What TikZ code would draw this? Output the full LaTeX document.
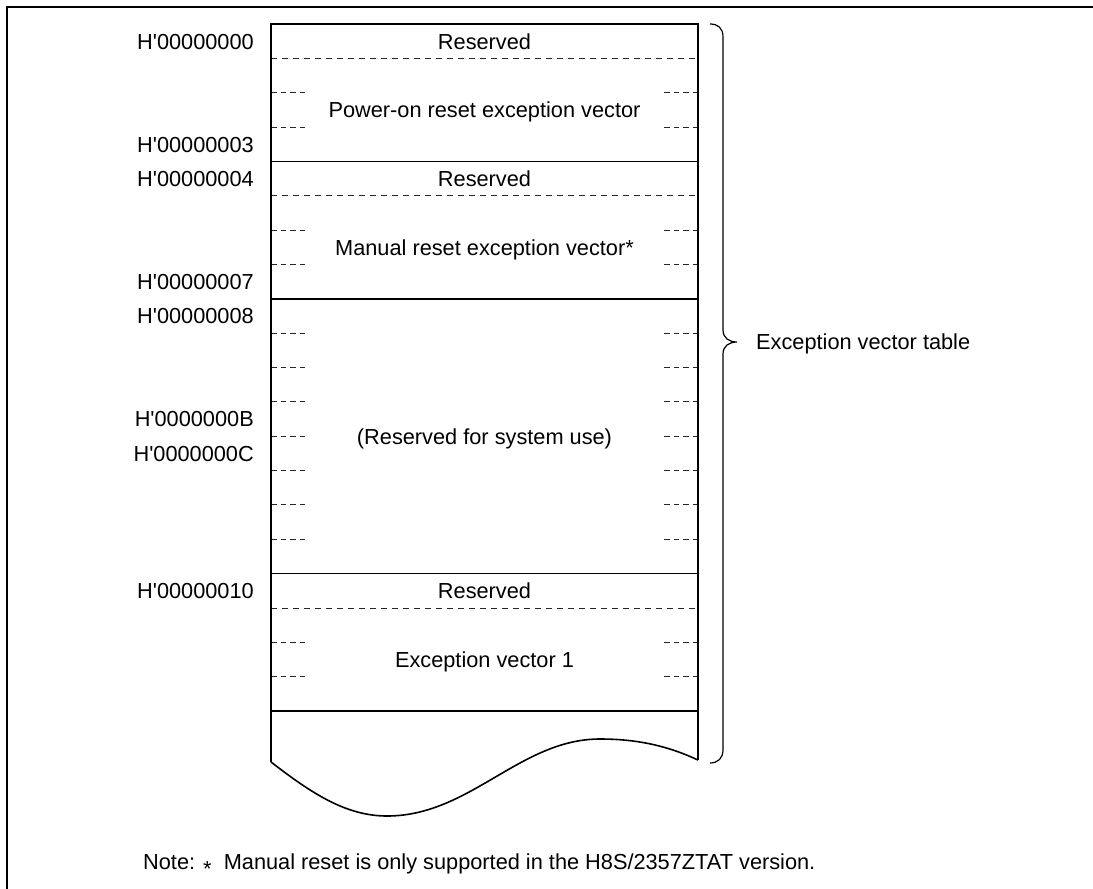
\documentclass[tikz,border=0pt]{standalone}
\usepackage{fontspec}
\setmainfont{Liberation Sans}[Ligatures=TeXOff]
\begin{document}
\begin{tikzpicture}[x=1pt,y=-1pt,
  solidline/.style={line width=1.6pt},
  frameline/.style={line width=1.3pt},
  sepline/.style={line width=0.9pt, black!85, dash pattern=on 6pt off 5pt},
  shortline/.style={line width=0.9pt, black!85, dash pattern=on 5.5pt off 4pt},
  bracepath/.style={line width=1.2pt},
  txt/.style={inner sep=0pt, text height=15.6pt, text depth=0pt, font=\fontsize{21.75}{26}\selectfont},
  lbl/.style={txt, anchor=east}]
\useasboundingbox (0,0) rectangle (1093,889);
\def\L{271}
\def\R{698}
% frame
\draw[frameline] (7,889) -- (7,7) -- (1093,7);
% full dashed separators
\foreach \yy in {58.35,195.75,607.95} {\draw[sepline] (\L,\yy) -- (\R,\yy);}
% short dashes
\foreach \yy in {92.7,127.05,230.1,264.45,333.15,367.5,401.85,436.2,470.55,504.9,539.25,642.3,676.65}
  {\draw[shortline] (\L,\yy) -- ++(34,0); \draw[shortline] (\R,\yy) -- ++(-34,0);}
% solid separators
\foreach \yy in {161.4,298.8,573.6,711} {\draw[solidline] (\L,\yy) -- (\R,\yy);}
% outline with wavy bottom
\draw[solidline] (\R,760) -- (\R,24) -- (\L,24) -- (\L,762);
\draw[solidline] (\L,762) .. controls (310,792) and (345,816) .. (387,816)
   .. controls (470,816) and (520,739) .. (600,739)
   .. controls (640,739) and (670,747) .. (\R,760);
% address labels
\node[lbl] (a0) at (254,41.2) {H'00000000};
\node[lbl] (a3) at (254,144.2) {H'00000003};
\node[lbl] (a4) at (254,178.6) {H'00000004};
\node[lbl] (a7) at (254,281.6) {H'00000007};
\node[lbl] (a8) at (254,316) {H'00000008};
\node[lbl] (aB) at (254,419) {H'0000000B};
\node[lbl] (aC) at (254,453.4) {H'0000000C};
\node[lbl] (a10) at (254,590.8) {H'00000010};
% cell texts
\node[txt] (r0) at (484.5,41.2) {Reserved};
\node[txt] (pv) at (484.5,109.9) {Power-on reset exception vector};
\node[txt] (r4) at (484.5,178.6) {Reserved};
\node[txt] (mv) at (484.5,247.3) {Manual reset exception vector*};
\node[txt] (sys) at (484.5,436.2) {(Reserved for system use)};
\node[txt] (r16) at (484.5,590.8) {Reserved};
\node[txt] (ev1) at (484.5,659.5) {Exception vector 1};
% brace
\coordinate (tip) at (737,342);
\draw[bracepath] (710,24) .. controls (718,24) and (723,28) .. (723,37) -- (723,330)
   .. controls (723,338) and (729,342) .. (tip)
   .. controls (729,342) and (723,346) .. (723,354) -- (723,750)
   .. controls (723,758) and (718,763) .. (710,763);
\node[txt, anchor=west] (evt) at (756,342) {Exception vector table};
% note
\node[txt, anchor=west] (note) at (143,862) {Note: \raisebox{-0.3em}{*}\ \ Manual reset is only supported in the H8S/2357ZTAT version.};
\end{tikzpicture}
\end{document}
